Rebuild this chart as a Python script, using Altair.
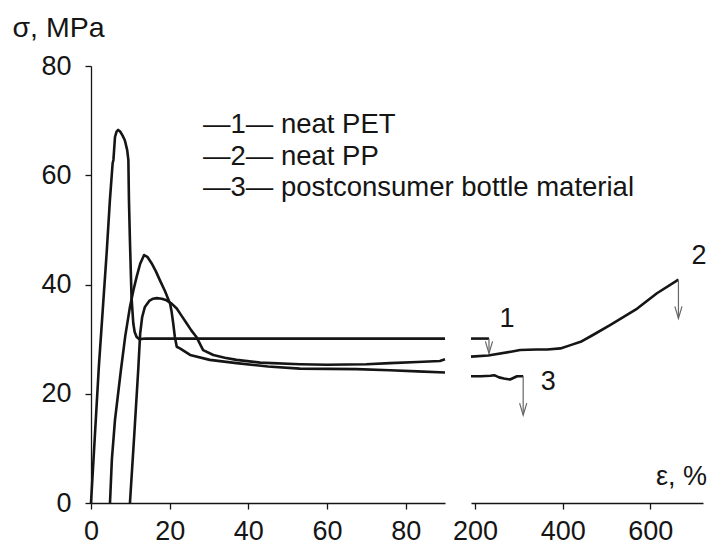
import altair as alt
import pandas as pd

# ---------------- data ----------------
# left panel, strain 0..90 %
pet_l_x = [0, 1, 2, 3, 4, 4.8, 5.5, 5.7, 6.1, 6.5, 6.9, 7.4, 8.0, 8.6, 9.2, 9.5, 9.65, 9.9, 10.3, 10.75, 11.1, 11.6, 12.3, 14, 90]
pet_l_y = [0, 12.5, 25, 35.5, 46, 55.4, 62.2, 62.8, 67.0, 68.0, 68.3, 68.0, 67.3, 66.4, 64.6, 62.8, 55.4, 48, 37.7, 32.9, 31.3, 30.4, 30.0, 30.1, 30.1]

pp_l_x = [9.9, 11, 12, 12.5, 13.0, 13.7, 14.8, 15.8, 16.7, 18, 19.2, 20.5, 21.8, 23, 24.3, 25.5, 26.8, 28.5, 31.1, 34, 37, 43, 53.1, 60, 70, 76, 83, 88.7, 90]
pp_l_y = [0, 12.5, 24.3, 31, 34, 35.9, 37.0, 37.4, 37.5, 37.4, 37.1, 36.5, 35.6, 34.3, 32.9, 31.6, 30.4, 28.0, 27.1, 26.6, 26.2, 25.7, 25.4, 25.3, 25.4, 25.6, 25.8, 26.0, 26.3]

bot_l_x = [4.83, 5.3, 6.1, 7.6, 8.7, 9.9, 10.8, 11.6, 12.5, 13.5, 14.4, 15.4, 16.5, 17.5, 18.8, 20.1, 20.5, 20.9, 21.3, 21.8, 22.6, 25.2, 30.2, 37, 45, 53.1, 67.5, 76, 83, 90]
bot_l_y = [0, 7.9, 15.2, 24.3, 30.5, 35.9, 39, 41.4, 43.8, 45.4, 45.0, 43.9, 42.4, 40.8, 38.8, 36.5, 35, 32.9, 30.5, 28.6, 28.3, 27.1, 26.2, 25.6, 25.0, 24.6, 24.5, 24.3, 24.1, 23.9]

# right panel, strain 190..720 %
pet_r_x = [191, 232]
pet_r_y = [30.1, 30.1]

pp_r_x = [191, 230, 282, 303, 340, 365, 395, 418, 441, 470, 509, 540, 570, 615, 664]
pp_r_y = [26.8, 27.0, 27.7, 28.0, 28.1, 28.1, 28.3, 28.9, 29.5, 30.8, 32.6, 34.1, 35.6, 38.4, 40.9]

bot_r_x = [191, 213, 235, 244, 255, 266, 280, 296, 310]
bot_r_y = [23.2, 23.2, 23.3, 23.4, 23.0, 22.8, 22.6, 23.2, 23.2]

# break markers (arrows) and curve numbers
arrow_x = [232, 664, 310]
arrow_top = [30.1, 40.9, 23.2]
arrow_tip = [27.4, 33.8, 16.1]

num_labels = ["1", "2", "3"]
num_x = [273, 711, 367]
num_y = [33.7, 45.3, 22.1]

legend_labels = ["\u20141\u2014  neat PET", "\u20142\u2014  neat PP", "\u20143\u2014  postconsumer bottle material"]

left_ticks = [0, 20, 40, 60, 80]
right_ticks = [200, 400, 600]
y_ticks = [0, 20, 40, 60, 80]

# ---------------- build tables ----------------
def frame(xs, ys, name):
    return pd.DataFrame({"x": xs, "y": ys, "curve": name, "i": list(range(len(xs)))})

left_df = pd.concat([frame(pet_l_x, pet_l_y, "1"), frame(pp_l_x, pp_l_y, "2"), frame(bot_l_x, bot_l_y, "3")])
right_df = pd.concat([frame(pet_r_x, pet_r_y, "1"), frame(pp_r_x, pp_r_y, "2"), frame(bot_r_x, bot_r_y, "3")])
arrow_df = pd.DataFrame({"x": arrow_x, "top": arrow_top, "tip": arrow_tip})
num_df = pd.DataFrame({"x": num_x, "y": num_y, "t": num_labels})
legend_df = pd.DataFrame({"t": ["\n".join(legend_labels)]})

FONT = "Liberation Sans"
INK = "#151515"
W_L, W_R, H = 354, 232, 437
yscale = alt.Scale(domain=[0, 80], nice=False, zero=False)

# ---------------- left panel ----------------
left_lines = alt.Chart(left_df).mark_line(color=INK, strokeWidth=2.6, strokeJoin="round").encode(
    x=alt.X("x:Q", scale=alt.Scale(domain=[0, 90], nice=False, zero=False),
            axis=alt.Axis(values=left_ticks, title=None, labelPadding=9, labelFlush=False)),
    y=alt.Y("y:Q", scale=yscale,
            axis=alt.Axis(values=y_ticks, title="\u03c3, MPa", titleAngle=0, titleX=-79, titleY=-39,
                          titleAlign="left", titleBaseline="middle", titleFontSize=28.5,
                          labelPadding=14, labelFlush=False)),
    detail="curve:N",
    order="i:Q",
)

legend_text = alt.Chart(legend_df).mark_text(
    align="left", baseline="alphabetic", lineBreak="\n", lineHeight=31.5,
    font=FONT, fontSize=27.5, color=INK,
).encode(x=alt.value(112), y=alt.value(67), text="t:N")

left = alt.layer(left_lines, legend_text).properties(width=W_L, height=H)

# ---------------- right panel ----------------
xr = alt.Scale(domain=[191, 720], nice=False, zero=False)

right_lines = alt.Chart(right_df).mark_line(color=INK, strokeWidth=2.6, strokeJoin="round").encode(
    x=alt.X("x:Q", scale=xr,
            axis=alt.Axis(values=right_ticks, title="\u03b5, %", titleX=210, titleY=-27,
                          titleAlign="center", titleBaseline="middle", labelPadding=9,
                          labelFlush=False)),
    y=alt.Y("y:Q", scale=yscale, axis=None),
    detail="curve:N",
    order="i:Q",
)

arrow_rules = alt.Chart(arrow_df).mark_rule(color="#666666", strokeWidth=1.2).encode(
    x="x:Q", y="top:Q", y2="tip:Q"
)

arrow_heads = alt.Chart(arrow_df).mark_point(
    shape="M-0.3,-1L0,0L0.3,-1", filled=False, color="#666666", strokeWidth=1.2, size=576, opacity=1
).encode(x="x:Q", y="tip:Q")

num_text = alt.Chart(num_df).mark_text(font=FONT, fontSize=27, color=INK, align="center",
                                        baseline="middle").encode(
    x="x:Q", y="y:Q", text="t:N"
)

right = alt.layer(right_lines, arrow_rules, arrow_heads, num_text).properties(width=W_R, height=H)

chart = alt.hconcat(left, right, spacing=26, bounds="flush").properties(
    padding={"left": 4, "top": 5, "right": 0, "bottom": 0}
).configure_view(stroke=None).configure_axis(
    labelFont=FONT, labelFontSize=27, labelColor=INK,
    titleFont=FONT, titleFontSize=27, titleFontWeight="normal", titleColor=INK,
    domainColor=INK, domainWidth=1.3, tickColor=INK, tickWidth=1.3, tickSize=6,
    grid=False,
)

chart.save("out.html", embed_options={"renderer": "svg", "actions": False})
